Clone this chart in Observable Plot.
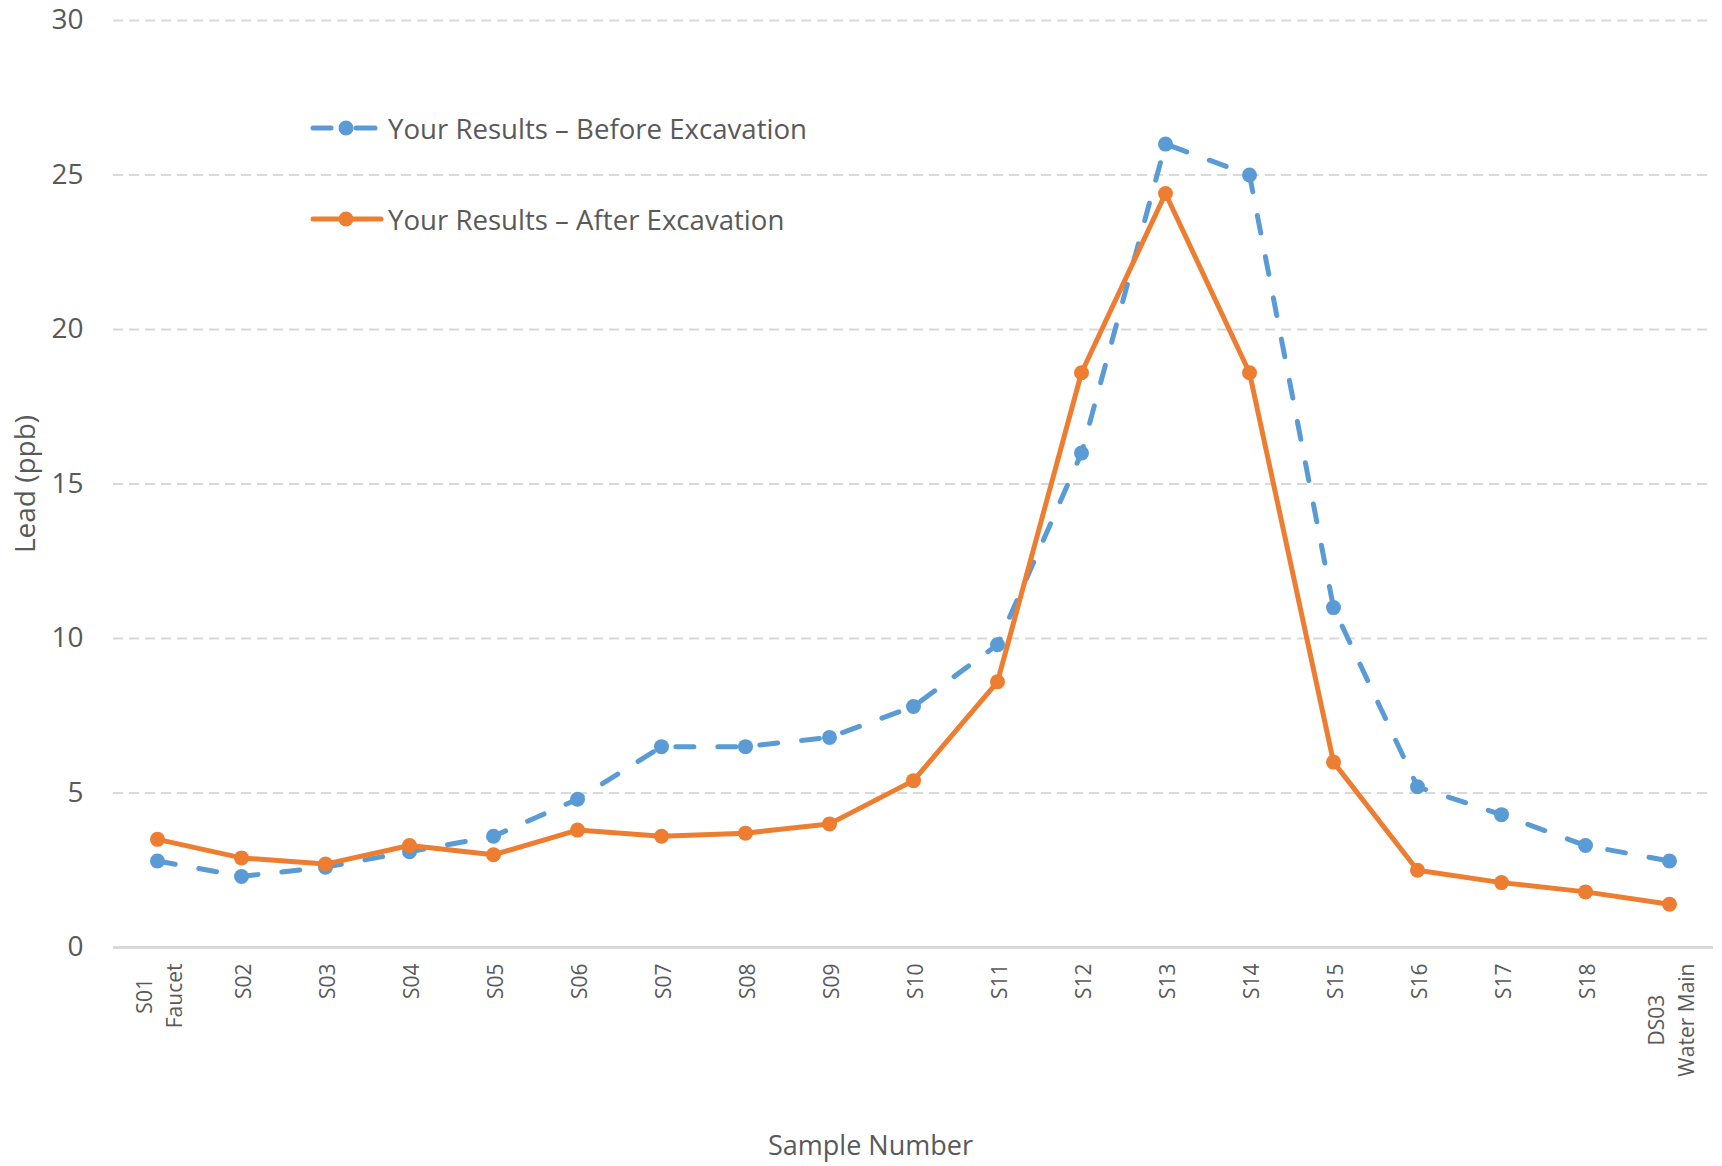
<!DOCTYPE html>
<html><head><meta charset="utf-8">
<script src="https://cdn.jsdelivr.net/npm/d3@7"></script>
<script src="https://cdn.jsdelivr.net/npm/@observablehq/plot@0.6"></script>
<style>
html,body{margin:0;padding:0;background:#fff;}
#wrap{position:relative;width:1722px;height:1166px;font-family:"Open Sans",sans-serif;overflow:hidden;}
#wrap svg{display:block;}
#legend{position:absolute;left:0;top:0;pointer-events:none;}
</style></head><body><div id="wrap"></div>
<script>
const samples = ["S01\nFaucet","S02","S03","S04","S05","S06","S07","S08","S09","S10","S11","S12","S13","S14","S15","S16","S17","S18","DS03\nWater Main"];
const beforeValues = [2.8,2.3,2.6,3.1,3.6,4.8,6.5,6.5,6.8,7.8,9.8,16.0,26.0,25.0,11.0,5.2,4.3,3.3,2.8];
const afterValues  = [3.5,2.9,2.7,3.3,3.0,3.8,3.6,3.7,4.0,5.4,8.6,18.6,24.4,18.6,6.0,2.5,2.1,1.8,1.4];
const yTicks = [0,5,10,15,20,25,30];
const seriesNames = ["Your Results – Before Excavation","Your Results – After Excavation"];
const seriesColors = ["#5B9BD5","#ED7D31"];
const yLabel = "Lead (ppb)";
const xLabel = "Sample Number";

const before = samples.map((s,i)=>({sample:s, lead:beforeValues[i]}));
const after = samples.map((s,i)=>({sample:s, lead:afterValues[i]}));
const textColor = "#595959";

const chart = Plot.plot({
  width:1722, height:1166,
  marginLeft:113, marginRight:9, marginTop:20, marginBottom:219,
  style:{fontFamily:'"Open Sans", sans-serif', color:textColor, background:"white", overflow:"visible"},
  x:{type:"point", domain:samples, padding:0.5},
  y:{domain:[0,30]},
  marks:[
    Plot.gridY(yTicks.filter(d=>d>0), {stroke:"#d9d9d9", strokeOpacity:1, strokeWidth:2, strokeDasharray:"10,6"}),
    Plot.ruleY([0], {stroke:"#d9d9d9", strokeWidth:3}),
    Plot.axisY(yTicks, {tickSize:0, tickPadding:30, fontSize:28, label:null, fill:textColor}),
    Plot.axisX({tickSize:0, tickPadding:16, tickRotate:-90, fontSize:21, lineHeight:1.4, label:null, fill:textColor}),
    Plot.line(before, {x:"sample", y:"lead", stroke:seriesColors[0], strokeWidth:5, strokeDasharray:"18,24", strokeLinecap:"round", strokeLinejoin:"round"}),
    Plot.dot(before, {x:"sample", y:"lead", r:7.5, fill:seriesColors[0], stroke:"none"}),
    Plot.line(after, {x:"sample", y:"lead", stroke:seriesColors[1], strokeWidth:5, strokeLinejoin:"round"}),
    Plot.dot(after, {x:"sample", y:"lead", r:7.5, fill:seriesColors[1], stroke:"none"}),
    Plot.text([yLabel], {text:d=>d, frameAnchor:"left", textAnchor:"middle", lineAnchor:"middle", rotate:-90, dx:-87, fontSize:28, fill:textColor}),
    Plot.text([xLabel], {text:d=>d, frameAnchor:"bottom", textAnchor:"middle", lineAnchor:"middle", dy:199, dx:-43, fontSize:27, fill:textColor})
  ]
});
const wrap = document.getElementById("wrap");
wrap.appendChild(chart);

// center multi-line rotated tick labels on their longest line
chart.querySelectorAll('g[aria-label="x-axis tick label"] text').forEach(t=>{
  const spans = t.querySelectorAll("tspan");
  if (spans.length > 1) {
    let L = 0;
    spans.forEach(s=>{ L = Math.max(L, s.getComputedTextLength()); });
    t.setAttribute("text-anchor","middle");
    spans.forEach(s=>s.setAttribute("x", -L/2));
  }
});

// legend overlay
const ns = "http://www.w3.org/2000/svg";
const lg = document.createElementNS(ns,"svg");
lg.setAttribute("id","legend"); lg.setAttribute("width",1722); lg.setAttribute("height",1166);
function el(name, attrs){ const e=document.createElementNS(ns,name); for(const k in attrs) e.setAttribute(k,attrs[k]); lg.appendChild(e); return e; }
const legendY = [128, 219];
el("line",{x1:313,x2:331,y1:legendY[0],y2:legendY[0],stroke:seriesColors[0],"stroke-width":5,"stroke-linecap":"round"});
el("line",{x1:356,x2:375,y1:legendY[0],y2:legendY[0],stroke:seriesColors[0],"stroke-width":5,"stroke-linecap":"round"});
el("circle",{cx:346,cy:legendY[0],r:7.5,fill:seriesColors[0]});
el("line",{x1:313,x2:381,y1:legendY[1],y2:legendY[1],stroke:seriesColors[1],"stroke-width":5,"stroke-linecap":"round"});
el("circle",{cx:346,cy:legendY[1],r:7.5,fill:seriesColors[1]});
seriesNames.forEach((n,i)=>{
  const t = el("text",{x:388,y:legendY[i],"dominant-baseline":"central","font-size":27.6,fill:textColor,"font-family":'"Open Sans", sans-serif'});
  t.textContent = n;
});
wrap.appendChild(lg);
</script></body></html>
